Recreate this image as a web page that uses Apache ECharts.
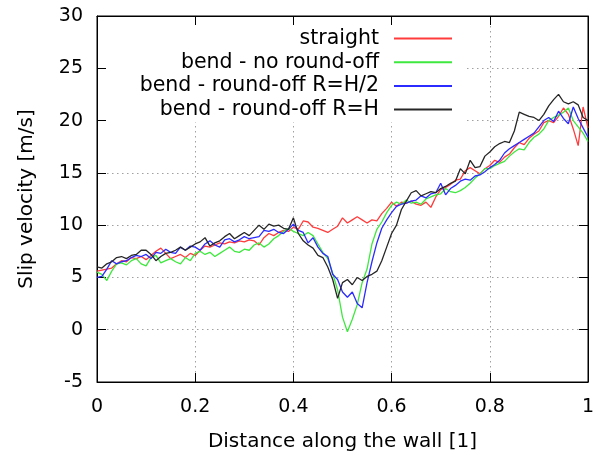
<!DOCTYPE html>
<html>
<head>
<meta charset="utf-8">
<script src="https://cdn.jsdelivr.net/npm/echarts@6/dist/echarts.min.js"></script>
<style>
  html, body { margin: 0; padding: 0; background: #fff; }
  #main { width: 601px; height: 455px; }
</style>
</head>
<body>
<div id="main"></div>
<script type="text/javascript">
    // x positions along the wall, step 0.01
    var xs = [];
    for (var i = 0; i <= 100; i++) xs.push(+(i / 100).toFixed(2));

    var seriesNames = ['straight', 'bend - no round-off', 'bend - round-off R=H/2', 'bend - round-off R=H'];

    var straight = [
        5.6, 5.7, 5.8, 5.9, 6.3, 6.6, 6.5, 6.9, 6.8, 7.0,
        6.7, 7.1, 7.5, 7.8, 7.3, 6.8, 7.0, 7.2, 6.9, 7.3,
        7.1, 7.6, 8.0, 7.9, 8.1, 8.3, 8.2, 8.4, 8.3, 8.5,
        8.4, 8.6, 8.5, 8.1, 8.8, 9.2, 9.0, 9.3, 9.5, 9.4,
        9.8, 9.6, 10.4, 10.3, 9.8, 9.7, 9.5, 9.3, 9.6, 9.9,
        10.7, 10.2, 10.5, 10.8, 10.5, 10.2, 10.5, 10.4, 11.1, 11.6,
        12.2, 11.8, 12.2, 12.1, 12.3, 12.0, 11.9, 12.2, 11.7, 12.7,
        13.4, 13.6, 13.9, 14.3, 14.4, 15.2, 15.5, 15.2, 14.9, 15.4,
        15.7, 16.2, 16.0, 16.5, 16.8, 17.4, 17.9, 17.7, 18.3, 18.7,
        19.0, 19.8, 20.0, 19.8, 20.4, 21.2, 20.6, 19.2, 17.6, 21.3,
        19.3
    ];
    var noRound = [
        5.5, 5.3, 4.7, 5.6, 6.3, 6.4, 6.2, 6.6, 6.8, 6.3,
        6.1, 6.9, 7.1, 6.4, 6.6, 6.8, 6.5, 6.3, 6.9, 6.6,
        7.3, 7.5, 7.2, 7.4, 7.0, 7.3, 7.6, 7.9, 7.5, 7.4,
        7.7, 7.6, 8.1, 8.3, 7.9, 8.2, 8.7, 9.0, 9.4, 9.7,
        9.4, 9.2, 9.0, 9.3, 9.0, 8.2, 7.4, 6.8, 5.4, 3.8,
        1.2, -0.2, 1.0, 2.4, 4.5, 5.8, 8.2, 9.6, 10.3, 11.2,
        11.9, 12.2, 12.0, 12.4, 12.1, 12.2, 12.0, 12.5, 12.7, 12.9,
        13.0, 13.5, 13.2, 13.1, 13.3, 13.6, 14.0, 14.5, 14.9, 15.4,
        15.4, 15.7, 15.9, 16.1, 16.6, 17.0, 17.3, 17.2, 17.9, 18.4,
        18.7, 19.2, 20.0, 20.3, 20.5, 20.8, 21.2, 20.0, 19.4, 18.8,
        18.0
    ];
    var roundHalf = [
        5.0, 5.1, 5.8, 6.6, 6.3, 6.5, 6.6, 6.9, 7.1, 7.0,
        7.2, 6.8, 7.4, 7.3, 7.7, 7.4, 7.3, 7.9, 7.6, 8.0,
        7.9, 7.6, 8.2, 8.5, 8.1, 7.9, 8.6, 8.7, 8.4, 8.6,
        8.9, 8.7, 8.8, 8.9, 9.5, 9.4, 9.6, 9.3, 9.2, 9.6,
        10.1, 9.5, 9.3, 8.3, 8.8, 7.9, 7.3, 7.0, 5.3, 4.8,
        3.6, 3.1, 3.6, 2.5, 2.1, 4.5, 6.5, 8.3, 9.7, 10.5,
        11.2, 11.8, 12.0, 12.1, 12.3, 12.4, 12.8, 12.6, 13.0, 13.1,
        14.0, 12.9, 13.5, 13.8, 14.2, 14.4, 14.3, 14.7, 14.8, 15.1,
        15.5, 15.8, 16.2, 16.9, 17.3, 17.6, 17.9, 18.2, 18.5, 18.8,
        19.4, 20.0, 20.3, 19.9, 20.9, 20.2, 19.7, 21.3, 20.2, 19.3,
        18.4
    ];
    var roundFull = [
        6.0, 5.9, 6.3, 6.5, 6.9, 7.0, 6.8, 7.1, 7.2, 7.6,
        7.6, 7.2, 6.6, 7.0, 7.3, 7.4, 7.6, 7.9, 7.6, 7.9,
        8.2, 8.4, 8.8, 8.0, 8.3, 8.5, 8.9, 9.2, 8.7, 9.0,
        9.3, 9.0, 9.5, 10.0, 9.6, 10.1, 9.9, 10.0, 9.7, 9.6,
        10.7, 9.2, 8.5, 8.1, 7.8, 7.1, 6.9, 6.0, 4.8, 3.0,
        4.5, 4.8, 4.3, 5.0, 4.7, 5.1, 5.3, 5.6, 6.6, 7.9,
        9.2, 10.0, 11.5, 12.3, 13.1, 13.3, 12.8, 13.0, 13.2, 13.1,
        13.5, 13.7, 14.0, 14.2, 15.4, 14.9, 16.2, 15.5, 15.6, 16.6,
        17.0, 17.5, 17.8, 18.0, 17.9, 19.0, 20.8, 20.6, 20.4, 20.3,
        20.0, 20.6, 21.4, 22.0, 22.5, 21.8, 21.6, 21.8, 21.5, 20.3,
        20.0
    ];

    var colors = ['#ff3b3b', '#3ee83e', '#2b2bff', '#262626'];
    var allValues = [straight, noRound, roundHalf, roundFull];

    var font = 'DejaVu Sans';

    function pairs(vals) {
        return xs.map(function (x, k) { return [x, vals[k]]; });
    }

    var dom = document.getElementById('main');
    var myChart = echarts.init(dom);
    var option = {
        animation: false,
        backgroundColor: '#fff',
        grid: {
            left: 97, right: 13, top: 16, bottom: 73,
            outerBoundsMode: 'none',
            show: true, borderColor: '#000', borderWidth: 1, backgroundColor: '#fff'
        },
        // opaque key box hides the grid behind the legend, like gnuplot
        graphic: [{
            type: 'rect',
            z: 1,
            shape: { x: 107, y: 26, width: 358, height: 96 },
            style: { fill: '#fff' }
        }],
        legend: {
            orient: 'vertical',
            align: 'right',
            right: 136,
            top: 14,
            padding: [14, 12, 5, 20],
            itemWidth: 58,
            itemHeight: 14,
            itemGap: 2.7,
            itemStyle: { opacity: 0 },
            textStyle: { fontFamily: font, fontSize: 20.5, color: '#000', padding: [0, 10, 0, 0] },
            data: seriesNames
        },
        xAxis: [{
            type: 'value', min: 0, max: 1, interval: 0.2,
            name: 'Distance along the wall [1]', nameLocation: 'middle', nameGap: 50,
            nameTextStyle: { fontFamily: font, fontSize: 20, color: '#000' },
            axisLine: { show: true, onZero: false, lineStyle: { color: '#000' } },
            axisTick: { inside: true, length: 9, lineStyle: { color: '#000' } },
            axisLabel: { fontFamily: font, fontSize: 19, color: '#000', margin: 16 },
            splitLine: { show: true, lineStyle: { color: '#a0a0a0', type: [1.5, 3.5] } }
        }, {
            type: 'value', min: 0, max: 1, interval: 0.2, position: 'top',
            axisLine: { show: true, onZero: false, lineStyle: { color: '#000' } },
            axisTick: { inside: true, length: 9, lineStyle: { color: '#000' } },
            axisLabel: { show: false },
            splitLine: { show: false }
        }],
        yAxis: [{
            type: 'value', min: -5, max: 30, interval: 5,
            name: 'Slip velocity [m/s]', nameLocation: 'middle', nameGap: 60,
            nameTextStyle: { fontFamily: font, fontSize: 20, color: '#000' },
            axisLine: { show: true, onZero: false, lineStyle: { color: '#000' } },
            axisTick: { inside: true, length: 9, lineStyle: { color: '#000' } },
            axisLabel: { fontFamily: font, fontSize: 19, color: '#000', margin: 14 },
            splitLine: { show: true, lineStyle: { color: '#a0a0a0', type: [1.5, 3.5] } }
        }, {
            type: 'value', min: -5, max: 30, interval: 5, position: 'right',
            axisLine: { show: true, onZero: false, lineStyle: { color: '#000' } },
            axisTick: { inside: true, length: 9, lineStyle: { color: '#000' } },
            axisLabel: { show: false },
            splitLine: { show: false }
        }],
        series: seriesNames.map(function (name, k) {
            return {
                name: name,
                type: 'line',
                xAxisIndex: 0,
                yAxisIndex: 0,
                symbol: 'none',
                color: colors[k],
                lineStyle: { width: 1.3, color: colors[k] },
                data: pairs(allValues[k])
            };
        })
    };

    if (option && typeof option === "object") {
        myChart.setOption(option, true);
    }
</script>
</body>
</html>
